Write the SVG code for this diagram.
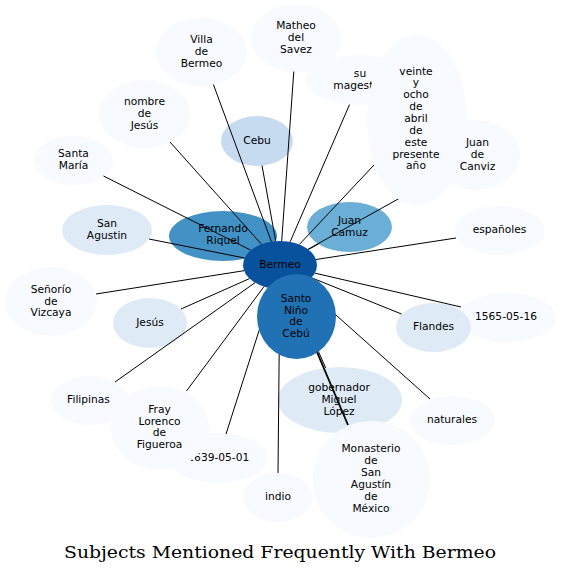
<svg xmlns="http://www.w3.org/2000/svg" width="561" height="574" viewBox="0 0 561 574">
<style>
text{font-family:"DejaVu Sans","Liberation Sans",sans-serif;font-size:10.67px;fill:#000;text-anchor:middle}
.c1{fill:#08519c}.c2{fill:#2171b5}.c3{fill:#4292c6}.c4{fill:#6baed6}.c5{fill:#c6dbef}.c6{fill:#deebf7}.c7{fill:#f7fbff}
#edges line{stroke:#000;stroke-width:1;fill:none}
.title{font-family:"DejaVu Serif","Liberation Serif",serif;font-size:17px}
</style>
<rect width="561" height="574" fill="#fff"/>
<g id="n-villa"><ellipse class="c7" cx="201.5" cy="52" rx="45.5" ry="34"/><text x="201.5" y="43">Villa</text><text x="201.5" y="54.8">de</text><text x="201.5" y="66.6">Bermeo</text></g>
<g id="n-matheo"><ellipse class="c7" cx="296" cy="38" rx="45" ry="34"/><text x="296" y="29">Matheo</text><text x="296" y="40.8">del</text><text x="296" y="52.6">Savez</text></g>
<g id="n-sumagestad"><ellipse class="c7" cx="360" cy="80" rx="54" ry="25"/><text x="360" y="77">su</text><text x="360" y="88.8">magestad</text></g>
<g id="n-nombre"><ellipse class="c7" cx="144.5" cy="114" rx="45.5" ry="34"/><text x="144.5" y="105">nombre</text><text x="144.5" y="116.8">de</text><text x="144.5" y="128.6">Jesús</text></g>
<g id="n-cebu"><ellipse class="c5" cx="257" cy="141" rx="36" ry="25"/><text x="257" y="143.8">Cebu</text></g>
<g id="n-santamaria"><ellipse class="c7" cx="73.5" cy="160.5" rx="39.5" ry="24.5"/><text x="73.5" y="157.2">Santa</text><text x="73.5" y="169">María</text></g>
<g id="n-sanagustin"><ellipse class="c6" cx="107" cy="230" rx="45" ry="25"/><text x="107" y="227">San</text><text x="107" y="238.8">Agustin</text></g>
<g id="n-fernando"><ellipse class="c3" cx="223" cy="236" rx="54" ry="25"/><text x="223" y="232.3">Fernando</text><text x="223" y="244.1">Riquel</text></g>
<g id="n-juancamuz"><ellipse class="c4" cx="349.5" cy="227" rx="42.5" ry="25"/><text x="349.5" y="224.3">Juan</text><text x="349.5" y="236">Camuz</text></g>
<g id="n-canviz"><ellipse class="c7" cx="477" cy="155" rx="43" ry="35"/><text x="477.5" y="146.3">Juan</text><text x="477.5" y="158">de</text><text x="477.5" y="169.7">Canviz</text></g>
<g id="n-espanoles"><ellipse class="c7" cx="499.5" cy="230.5" rx="45.5" ry="24.5"/><text x="499.5" y="233.3">españoles</text></g>
<g id="n-senorio"><ellipse class="c7" cx="51" cy="301.5" rx="46" ry="34.5"/><text x="51" y="292.7">Señorío</text><text x="51" y="304.5">de</text><text x="51" y="316.3">Vizcaya</text></g>
<g id="n-jesus"><ellipse class="c6" cx="150" cy="323" rx="37" ry="25"/><text x="150" y="326">Jesús</text></g>
<g id="n-1565"><ellipse class="c7" cx="507" cy="317.5" rx="49" ry="24.5"/><text x="506" y="320.3">1565-05-16</text></g>
<g id="n-flandes"><ellipse class="c6" cx="433.5" cy="327.5" rx="37.5" ry="24.5"/><text x="433.5" y="330">Flandes</text></g>
<g id="n-gobernador"><ellipse class="c6" cx="340" cy="400" rx="62" ry="33"/><text x="339" y="391.2">gobernador</text><text x="339" y="403">Miguel</text><text x="339" y="414.8">López</text></g>
<g id="n-monasterio"><ellipse class="c7" cx="371.5" cy="479.5" rx="58.5" ry="58.5"/><text x="371" y="452">Monasterio</text><text x="371" y="463.9">de</text><text x="371" y="475.8">San</text><text x="371" y="487.7">Agustín</text><text x="371" y="499.6">de</text><text x="371" y="511.5">México</text></g>
<g id="n-naturales"><ellipse class="c7" cx="452.5" cy="420.5" rx="42.5" ry="24.5"/><text x="452" y="423.1">naturales</text></g>
<g id="n-indio"><ellipse class="c7" cx="278" cy="497.5" rx="35" ry="24.5"/><text x="278" y="500.4">indio</text></g>
<g id="n-1639"><ellipse class="c7" cx="218" cy="458" rx="50" ry="25"/><text x="218.3" y="461">1639-05-01</text></g>
<g id="n-fray"><ellipse class="c7" cx="160" cy="428" rx="49" ry="42"/><text x="159.5" y="412.8">Fray</text><text x="159.5" y="424.5">Lorenco</text><text x="159.5" y="436.1">de</text><text x="159.5" y="447.8">Figueroa</text></g>
<g id="n-filipinas"><ellipse class="c7" cx="89.5" cy="400.5" rx="38.5" ry="24.5"/><text x="88.5" y="403">Filipinas</text></g>
<g id="edges">
<line x1="271.4" y1="241.7" x2="213.4" y2="84.5"/>
<line x1="281.7" y1="241" x2="293.8" y2="71.5"/>
<line x1="290.1" y1="241.9" x2="349.5" y2="104.6"/>
<line x1="261.4" y1="244.2" x2="170" y2="142"/>
<line x1="275.7" y1="241.2" x2="262" y2="165.5"/>
<line x1="250.8" y1="250.2" x2="103.5" y2="176"/>
<line x1="244.6" y1="258" x2="149" y2="239"/>
<line x1="299.3" y1="244.5" x2="374" y2="165"/>
<line x1="308" y1="249.3" x2="441.5" y2="174.8"/>
<line x1="308.3" y1="249.5" x2="318.4" y2="244"/>
<line x1="316" y1="259.5" x2="456" y2="238"/>
<line x1="244" y1="270.7" x2="96" y2="294"/>
<line x1="249.5" y1="278.6" x2="181" y2="309"/>
<line x1="314.8" y1="273.1" x2="461" y2="307"/>
<line x1="311.4" y1="277.7" x2="401.5" y2="314"/>
<line x1="301.7" y1="284.4" x2="430" y2="399"/>
<line x1="290.2" y1="288.1" x2="325.7" y2="367.9"/>
<line x1="289.8" y1="288.1" x2="348" y2="425" style="stroke-width:1.8"/>
<line x1="279.8" y1="289" x2="278" y2="473"/>
<line x1="272.5" y1="288.5" x2="226" y2="434"/>
<line x1="264" y1="286.6" x2="186.5" y2="391"/>
<line x1="255" y1="282.7" x2="115" y2="382"/>
</g>
<g id="n-veinte"><ellipse class="c7" cx="417" cy="120" rx="50" ry="85"/><text x="416" y="74.6">veinte</text><text x="416" y="86.45">y</text><text x="416" y="98.3">ocho</text><text x="416" y="110.15">de</text><text x="416" y="122">abril</text><text x="416" y="133.85">de</text><text x="416" y="145.7">este</text><text x="416" y="157.55">presente</text><text x="416" y="169.4">año</text></g>
<g id="n-bermeo"><ellipse class="c1" cx="280" cy="265" rx="37" ry="24"/><text x="280" y="268">Bermeo</text></g>
<g id="n-santonino"><ellipse class="c2" cx="296.5" cy="316.5" rx="39.5" ry="42.5"/><text x="296" y="302">Santo</text><text x="296" y="313.7">Niño</text><text x="296" y="325.4">de</text><text x="296" y="337.1">Cebú</text></g>
<text class="title" x="280" y="558" textLength="432" lengthAdjust="spacingAndGlyphs">Subjects Mentioned Frequently With Bermeo</text>
</svg>
